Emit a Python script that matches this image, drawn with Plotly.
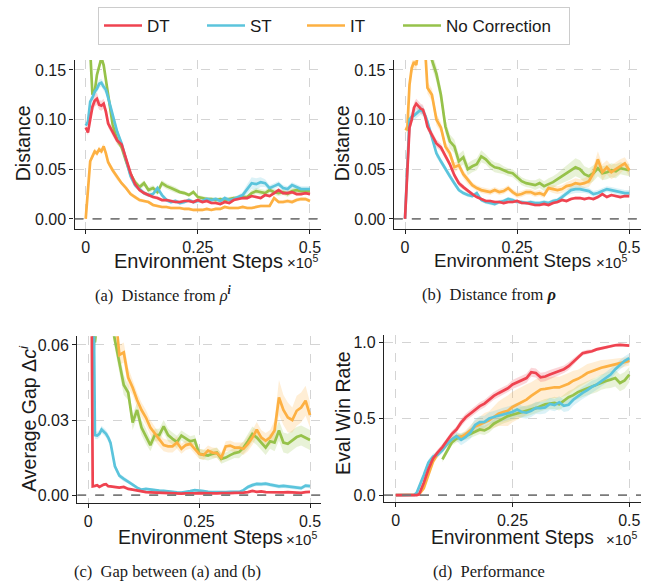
import plotly.graph_objects as go

# ---------------- data (x in units of 1e5 environment steps) ----------------
STEPS = [0.0, 0.005, 0.01, 0.015, 0.02, 0.025, 0.03, 0.035, 0.04, 0.045, 0.05,
         0.06, 0.07, 0.08, 0.09, 0.10,
         0.11, 0.12, 0.13, 0.14, 0.15,
         0.16, 0.17, 0.18, 0.19, 0.20,
         0.21, 0.22, 0.23, 0.24, 0.25,
         0.26, 0.27, 0.28, 0.29, 0.30,
         0.31, 0.32, 0.33, 0.34, 0.35,
         0.36, 0.37, 0.38, 0.39, 0.40,
         0.41, 0.42, 0.43, 0.44, 0.45,
         0.46, 0.47, 0.48, 0.49, 0.50]

SERIES = ["DT", "ST", "IT", "No Correction"]
COLORS = ["#EF4350", "#5BC4DC", "#FDB042", "#96C24A"]
BAND_RGB = ["239,67,80", "91,196,220", "253,176,66", "150,194,74"]

X_TICKS = [0, 0.25, 0.5]
X_TICKTEXT = ["0", "0.25", "0.5"]
AB_YTICKS = [0, 0.05, 0.10, 0.15]
AB_YTICKTEXT = ["0.00", "0.05", "0.10", "0.15"]
C_YTICKS = [0, 0.03, 0.06]
C_YTICKTEXT = ["0.00", "0.03", "0.06"]
D_YTICKS = [0, 0.5, 1.0]
D_YTICKTEXT = ["0.0", "0.5", "1.0"]

# ---- (a) Distance from rho^i ----
A_DT = [0.092, 0.087, 0.100, 0.113, 0.119, 0.121, 0.115, 0.114, 0.116, 0.108, 0.096,
        0.088, 0.079, 0.075, 0.060, 0.046,
        0.035, 0.029, 0.026, 0.024, 0.022,
        0.021, 0.019, 0.019, 0.018, 0.017,
        0.017, 0.018, 0.018, 0.017, 0.019,
        0.017, 0.018, 0.016, 0.016, 0.015,
        0.017, 0.016, 0.019, 0.020, 0.021,
        0.021, 0.023, 0.022, 0.021, 0.024,
        0.023, 0.026, 0.029, 0.026, 0.026,
        0.027, 0.025, 0.025, 0.026, 0.025]
A_ST = [0.094, 0.098, 0.118, 0.122, 0.128, 0.131, 0.136, 0.137, 0.133, 0.130, 0.122,
        0.105, 0.088, 0.076, 0.060, 0.043,
        0.034, 0.030, 0.026, 0.024, 0.025,
        0.031, 0.024, 0.019, 0.017, 0.018,
        0.016, 0.017, 0.019, 0.017, 0.018,
        0.018, 0.020, 0.019, 0.020, 0.018,
        0.021, 0.019, 0.020, 0.022, 0.024,
        0.030, 0.036, 0.035, 0.037, 0.036,
        0.031, 0.033, 0.035, 0.031, 0.030,
        0.034, 0.032, 0.030, 0.030, 0.030]
A_IT = [0.000, 0.030, 0.058, 0.063, 0.068, 0.066, 0.070, 0.068, 0.073, 0.066, 0.057,
        0.049, 0.042, 0.036, 0.031, 0.025,
        0.022, 0.019, 0.018, 0.017, 0.014,
        0.013, 0.012, 0.012, 0.011, 0.011,
        0.011, 0.010, 0.010, 0.009, 0.009,
        0.009, 0.010, 0.009, 0.010, 0.010,
        0.012, 0.011, 0.011, 0.011, 0.012,
        0.011, 0.011, 0.012, 0.013, 0.013,
        0.013, 0.021, 0.017, 0.017, 0.018,
        0.017, 0.019, 0.020, 0.020, 0.018]
A_NC = [0.350, 0.250, 0.170, 0.125, 0.128, 0.145, 0.155, 0.162, 0.155, 0.140, 0.122,
        0.095, 0.080, 0.072, 0.058, 0.045,
        0.037, 0.032, 0.036, 0.029, 0.031,
        0.027, 0.036, 0.033, 0.031, 0.029,
        0.027, 0.026, 0.024, 0.027, 0.022,
        0.021, 0.020, 0.020, 0.019, 0.020,
        0.019, 0.020, 0.021, 0.021, 0.022,
        0.022, 0.026, 0.028, 0.027, 0.026,
        0.029, 0.027, 0.026, 0.027, 0.025,
        0.028, 0.029, 0.028, 0.028, 0.028]
A_DT_SD = [0.002, 0.003, 0.004, 0.005, 0.006, 0.006, 0.005, 0.005, 0.005, 0.005, 0.004,
           0.004, 0.004, 0.004, 0.003, 0.003,
           0.003, 0.002, 0.002, 0.002, 0.002,
           0.002, 0.0015, 0.0015, 0.0015, 0.0015,
           0.0015, 0.0015, 0.0015, 0.0015, 0.0015,
           0.0015, 0.0015, 0.0015, 0.0015, 0.0015,
           0.0015, 0.0015, 0.0015, 0.0015, 0.0015,
           0.0015, 0.0015, 0.0015, 0.0015, 0.0015,
           0.0015, 0.0015, 0.002, 0.002, 0.002,
           0.002, 0.0015, 0.0015, 0.0015, 0.0015]
A_ST_SD = [0.002, 0.003, 0.004, 0.004, 0.004, 0.004, 0.004, 0.004, 0.004, 0.004, 0.004,
           0.004, 0.004, 0.003, 0.003, 0.003,
           0.003, 0.002, 0.002, 0.002, 0.002,
           0.003, 0.002, 0.002, 0.002, 0.002,
           0.002, 0.002, 0.002, 0.002, 0.002,
           0.002, 0.002, 0.002, 0.002, 0.002,
           0.002, 0.002, 0.002, 0.002, 0.003,
           0.005, 0.006, 0.006, 0.005, 0.004,
           0.003, 0.003, 0.003, 0.003, 0.003,
           0.003, 0.003, 0.003, 0.003, 0.003]
A_IT_SD = [0.001, 0.002, 0.003, 0.003, 0.003, 0.003, 0.003, 0.003, 0.003, 0.003, 0.003,
           0.003, 0.003, 0.002, 0.002, 0.002,
           0.002, 0.002, 0.0015, 0.0015, 0.0015,
           0.0015, 0.0015, 0.0015, 0.0015, 0.0015,
           0.0015, 0.0015, 0.0015, 0.0015, 0.0015,
           0.0015, 0.0015, 0.0015, 0.0015, 0.0015,
           0.0015, 0.0015, 0.0015, 0.0015, 0.0015,
           0.0015, 0.0015, 0.0015, 0.0015, 0.0015,
           0.0015, 0.002, 0.002, 0.002, 0.002,
           0.002, 0.002, 0.002, 0.002, 0.002]
A_NC_SD = [0.004, 0.004, 0.004, 0.004, 0.004, 0.004, 0.004, 0.004, 0.004, 0.004, 0.004,
           0.004, 0.004, 0.003, 0.003, 0.003,
           0.003, 0.003, 0.003, 0.003, 0.003,
           0.003, 0.003, 0.003, 0.003, 0.003,
           0.002, 0.002, 0.002, 0.002, 0.002,
           0.002, 0.002, 0.002, 0.002, 0.002,
           0.002, 0.002, 0.002, 0.002, 0.002,
           0.002, 0.003, 0.003, 0.003, 0.003,
           0.003, 0.003, 0.003, 0.003, 0.003,
           0.003, 0.003, 0.003, 0.003, 0.003]

# ---- (b) Distance from rho ----
B_DT = [0.000, 0.046, 0.092, 0.100, 0.112, 0.116, 0.113, 0.111, 0.110, 0.103, 0.093,
        0.085, 0.076, 0.072, 0.063, 0.055,
        0.044, 0.036, 0.032, 0.028, 0.025,
        0.022, 0.020, 0.018, 0.018, 0.017,
        0.017, 0.016, 0.017, 0.017, 0.018,
        0.016, 0.016, 0.015, 0.014, 0.014,
        0.015, 0.014, 0.016, 0.017, 0.019,
        0.018, 0.020, 0.021, 0.021, 0.020,
        0.021, 0.020, 0.022, 0.025, 0.022,
        0.024, 0.023, 0.022, 0.023, 0.023]
B_ST = [0.000, 0.050, 0.100, 0.103, 0.104, 0.106, 0.108, 0.110, 0.108, 0.104, 0.098,
        0.083, 0.066, 0.058, 0.050, 0.043,
        0.036, 0.029, 0.026, 0.024, 0.023,
        0.026, 0.019, 0.017, 0.016, 0.015,
        0.017, 0.018, 0.020, 0.019, 0.017,
        0.017, 0.016, 0.017, 0.016, 0.016,
        0.017, 0.016, 0.018, 0.019, 0.022,
        0.026, 0.029, 0.030, 0.030, 0.029,
        0.028, 0.025, 0.026, 0.028, 0.030,
        0.029, 0.028, 0.027, 0.026, 0.026]
B_IT = [0.091, 0.090, 0.135, 0.152, 0.158, 0.155, 0.170, 0.190, 0.190, 0.170, 0.132,
        0.125, 0.100, 0.092, 0.073, 0.066,
        0.052, 0.054, 0.045, 0.039, 0.034,
        0.031, 0.029, 0.028, 0.027, 0.029,
        0.027, 0.028, 0.031, 0.027, 0.024,
        0.025, 0.027, 0.027, 0.025, 0.026,
        0.024, 0.031, 0.030, 0.029, 0.030,
        0.033, 0.034, 0.036, 0.035, 0.036,
        0.038, 0.046, 0.060, 0.047, 0.052,
        0.047, 0.050, 0.053, 0.056, 0.049]
B_NC = [0.250, 0.280, 0.300, 0.300, 0.290, 0.280, 0.260, 0.240, 0.220, 0.200, 0.185,
        0.160, 0.146, 0.125, 0.093, 0.078,
        0.073, 0.058, 0.062, 0.050, 0.053,
        0.055, 0.063, 0.060, 0.055, 0.052,
        0.051, 0.049, 0.047, 0.046, 0.042,
        0.038, 0.036, 0.035, 0.034, 0.036,
        0.033, 0.035, 0.037, 0.040, 0.043,
        0.046, 0.049, 0.052, 0.050, 0.045,
        0.043, 0.046, 0.051, 0.046, 0.047,
        0.049, 0.048, 0.051, 0.050, 0.049]
B_DT_SD = [0.001, 0.003, 0.004, 0.005, 0.005, 0.005, 0.005, 0.005, 0.005, 0.005, 0.004,
           0.004, 0.004, 0.004, 0.003, 0.003,
           0.003, 0.003, 0.002, 0.002, 0.002,
           0.0015, 0.0015, 0.0015, 0.0015, 0.0015,
           0.0015, 0.0015, 0.0015, 0.0015, 0.0015,
           0.0015, 0.0015, 0.0015, 0.0015, 0.0015,
           0.0015, 0.0015, 0.0015, 0.0015, 0.0015,
           0.0015, 0.0015, 0.0015, 0.0015, 0.0015,
           0.0015, 0.0015, 0.0015, 0.0015, 0.0015,
           0.0015, 0.0015, 0.0015, 0.0015, 0.0015]
B_ST_SD = [0.001, 0.003, 0.004, 0.005, 0.005, 0.005, 0.005, 0.005, 0.005, 0.005, 0.004,
           0.004, 0.004, 0.003, 0.003, 0.003,
           0.003, 0.002, 0.002, 0.002, 0.002,
           0.002, 0.002, 0.002, 0.002, 0.002,
           0.002, 0.002, 0.002, 0.002, 0.002,
           0.002, 0.002, 0.002, 0.002, 0.002,
           0.002, 0.002, 0.002, 0.002, 0.003,
           0.003, 0.004, 0.004, 0.004, 0.003,
           0.003, 0.003, 0.003, 0.003, 0.003,
           0.003, 0.003, 0.003, 0.003, 0.003]
B_IT_SD = [0.002, 0.004, 0.006, 0.006, 0.006, 0.006, 0.006, 0.006, 0.006, 0.006, 0.006,
           0.006, 0.006, 0.005, 0.005, 0.005,
           0.005, 0.004, 0.004, 0.004, 0.003,
           0.003, 0.003, 0.003, 0.003, 0.003,
           0.003, 0.003, 0.003, 0.003, 0.003,
           0.003, 0.003, 0.003, 0.003, 0.003,
           0.003, 0.003, 0.004, 0.004, 0.004,
           0.004, 0.005, 0.005, 0.005, 0.005,
           0.006, 0.007, 0.008, 0.008, 0.007,
           0.007, 0.007, 0.007, 0.006, 0.006]
B_NC_SD = [0.010, 0.010, 0.010, 0.010, 0.010, 0.010, 0.010, 0.010, 0.010, 0.010, 0.010,
           0.008, 0.008, 0.008, 0.007, 0.007,
           0.007, 0.007, 0.007, 0.006, 0.006,
           0.006, 0.006, 0.005, 0.005, 0.005,
           0.005, 0.004, 0.004, 0.004, 0.004,
           0.004, 0.004, 0.004, 0.005, 0.005,
           0.005, 0.006, 0.006, 0.006, 0.007,
           0.008, 0.009, 0.009, 0.009, 0.008,
           0.008, 0.008, 0.008, 0.007, 0.007,
           0.007, 0.007, 0.006, 0.006, 0.006]

# ---- (c) Gap between (a) and (b) ----
C_DT = [0.300, 0.150, 0.0035, 0.0037, 0.0040, 0.0033, 0.0038, 0.0042, 0.0044, 0.0036, 0.0035,
        0.0031, 0.0030, 0.0033, 0.0025, 0.0022,
        0.0018, 0.0016, 0.0012, 0.0011, 0.0010,
        0.0009, 0.0008, 0.0008, 0.0007, 0.0007,
        0.0006, 0.0007, 0.0006, 0.0007, 0.0008,
        0.0007, 0.0009, 0.0008, 0.0007, 0.0008,
        0.0007, 0.0008, 0.0009, 0.0008, 0.0010,
        0.0012, 0.0017, 0.0013, 0.0015, 0.0012,
        0.0011, 0.0013, 0.0010, 0.0011, 0.0012,
        0.0010, 0.0011, 0.0009, 0.0012, 0.0013]
C_ST = [0.300, 0.250, 0.120, 0.0240, 0.0238, 0.0245, 0.0262, 0.0255, 0.0245, 0.0230, 0.0210,
        0.0115, 0.0078, 0.0065, 0.0055, 0.0042,
        0.0030, 0.0022, 0.0025, 0.0022, 0.0020,
        0.0018, 0.0017, 0.0014, 0.0013, 0.0011,
        0.0010, 0.0012, 0.0016, 0.0020, 0.0019,
        0.0016, 0.0013, 0.0012, 0.0013, 0.0011,
        0.0012, 0.0013, 0.0012, 0.0013, 0.0020,
        0.0033, 0.0040, 0.0045, 0.0044, 0.0046,
        0.0042, 0.0038, 0.0035, 0.0037, 0.0035,
        0.0033, 0.0030, 0.0028, 0.0038, 0.0036]
C_IT = [0.250, 0.250, 0.240, 0.220, 0.200, 0.180, 0.160, 0.140, 0.120, 0.100, 0.090,
        0.075, 0.056, 0.057, 0.047, 0.043,
        0.038, 0.034, 0.031, 0.027, 0.0245,
        0.022, 0.020, 0.0195, 0.0195, 0.021,
        0.0185, 0.020, 0.0205, 0.0185, 0.0165,
        0.016, 0.0178, 0.017, 0.0168, 0.015,
        0.0195, 0.0198, 0.019, 0.019, 0.0185,
        0.0205, 0.023, 0.0262, 0.023, 0.0218,
        0.023, 0.0258, 0.039, 0.034, 0.031,
        0.030, 0.0337, 0.035, 0.0377, 0.032]
C_NC = [0.250, 0.120, 0.064, 0.061, 0.070, 0.090, 0.100, 0.100, 0.090, 0.080, 0.072,
        0.062, 0.053, 0.044, 0.041, 0.029,
        0.034, 0.027, 0.0235, 0.020, 0.024,
        0.024, 0.0275, 0.024, 0.0225, 0.0212,
        0.0238, 0.0225, 0.0215, 0.022, 0.0165,
        0.0162, 0.0158, 0.0165, 0.017, 0.0145,
        0.015, 0.016, 0.0168, 0.0172, 0.019,
        0.0215, 0.0244, 0.023, 0.021, 0.019,
        0.0215, 0.021, 0.0258, 0.021, 0.0205,
        0.022, 0.0232, 0.0238, 0.023, 0.022]
C_DT_SD = [0.0, 0.0, 0.0004, 0.0004, 0.0004, 0.0004, 0.0004, 0.0004, 0.0004, 0.0004, 0.0004,
           0.0003, 0.0003, 0.0003, 0.0003, 0.0003,
           0.0003, 0.0003, 0.0003, 0.0003, 0.0003,
           0.0003, 0.0003, 0.0003, 0.0003, 0.0003,
           0.0003, 0.0003, 0.0003, 0.0003, 0.0003,
           0.0003, 0.0003, 0.0003, 0.0003, 0.0003,
           0.0003, 0.0003, 0.0003, 0.0003, 0.0003,
           0.0003, 0.0003, 0.0003, 0.0003, 0.0003,
           0.0003, 0.0003, 0.0003, 0.0003, 0.0003,
           0.0003, 0.0003, 0.0003, 0.0003, 0.0003]
C_ST_SD = [0.0, 0.0, 0.0, 0.0015, 0.0015, 0.0015, 0.0015, 0.0015, 0.0015, 0.0015, 0.0015,
           0.0012, 0.0010, 0.0010, 0.0008, 0.0008,
           0.0005, 0.0005, 0.0005, 0.0005, 0.0005,
           0.0005, 0.0005, 0.0005, 0.0005, 0.0005,
           0.0005, 0.0005, 0.0005, 0.0005, 0.0005,
           0.0005, 0.0005, 0.0005, 0.0005, 0.0005,
           0.0005, 0.0005, 0.0005, 0.0005, 0.0005,
           0.0008, 0.0008, 0.0008, 0.0008, 0.0008,
           0.0008, 0.0008, 0.0008, 0.0008, 0.0008,
           0.0008, 0.0008, 0.0008, 0.0008, 0.0008]
C_IT_SD = [0.004, 0.004, 0.004, 0.004, 0.004, 0.004, 0.004, 0.004, 0.004, 0.004, 0.004,
           0.004, 0.004, 0.004, 0.004, 0.003,
           0.003, 0.003, 0.003, 0.003, 0.0025,
           0.0025, 0.0025, 0.0025, 0.0025, 0.0025,
           0.002, 0.002, 0.002, 0.002, 0.002,
           0.002, 0.002, 0.002, 0.002, 0.002,
           0.002, 0.002, 0.002, 0.002, 0.0025,
           0.003, 0.003, 0.003, 0.003, 0.003,
           0.003, 0.004, 0.007, 0.006, 0.006,
           0.005, 0.006, 0.006, 0.006, 0.005]
C_NC_SD = [0.004, 0.004, 0.004, 0.004, 0.004, 0.004, 0.004, 0.004, 0.004, 0.004, 0.004,
           0.004, 0.004, 0.004, 0.003, 0.003,
           0.003, 0.003, 0.003, 0.0025, 0.0025,
           0.0025, 0.0025, 0.0025, 0.0025, 0.0025,
           0.002, 0.002, 0.002, 0.002, 0.002,
           0.002, 0.002, 0.002, 0.002, 0.002,
           0.002, 0.002, 0.002, 0.0025, 0.0025,
           0.003, 0.003, 0.003, 0.003, 0.003,
           0.003, 0.0035, 0.004, 0.004, 0.004,
           0.004, 0.004, 0.004, 0.004, 0.004]

# ---- (d) Performance (eval win rate) ----
D_DT = [0.0, 0.0, 0.0, 0.0, 0.0, 0.0, 0.0, 0.0, 0.0, 0.0, 0.005,
        0.080, 0.170, 0.240, 0.280, 0.315,
        0.358, 0.400, 0.430, 0.475, 0.510,
        0.535, 0.560, 0.583, 0.600, 0.625,
        0.650, 0.668, 0.685, 0.700, 0.725,
        0.738, 0.752, 0.767, 0.805, 0.800,
        0.772, 0.777, 0.790, 0.800, 0.812,
        0.825, 0.845, 0.875, 0.905, 0.930,
        0.937, 0.943, 0.955, 0.962, 0.968,
        0.978, 0.982, 0.985, 0.982, 0.980]
D_ST = [0.0, 0.0, 0.0, 0.0, 0.0, 0.0, 0.0, 0.0, 0.002, 0.015, 0.050,
        0.130, 0.213, 0.253, 0.266, 0.295,
        0.335, 0.365, 0.387, 0.362, 0.382,
        0.410, 0.460, 0.478, 0.480, 0.503,
        0.512, 0.520, 0.528, 0.535, 0.545,
        0.561, 0.545, 0.540, 0.552, 0.572,
        0.570, 0.575, 0.598, 0.590, 0.608,
        0.585, 0.592, 0.625, 0.650, 0.670,
        0.688, 0.710, 0.724, 0.748, 0.768,
        0.790, 0.825, 0.855, 0.880, 0.898]
D_IT = [0.0, 0.0, 0.0, 0.0, 0.0, 0.0, 0.0, 0.0, 0.0, 0.0, 0.004,
        0.045, 0.140, 0.220, 0.270, 0.300,
        0.335, 0.365, 0.387, 0.380, 0.400,
        0.425, 0.450, 0.463, 0.478, 0.490,
        0.512, 0.533, 0.545, 0.553, 0.578,
        0.595, 0.610, 0.626, 0.650, 0.670,
        0.692, 0.696, 0.703, 0.707, 0.706,
        0.716, 0.730, 0.750, 0.762, 0.780,
        0.800, 0.812, 0.825, 0.835, 0.842,
        0.850, 0.857, 0.865, 0.872, 0.880]
D_NC = [None, None, None, None, None, None, None, None, None, None, None,
        None, None, None, None, 0.235,
        0.290, 0.345, 0.370, 0.382, 0.388,
        0.400, 0.415, 0.430, 0.424, 0.440,
        0.468, 0.485, 0.500, 0.518, 0.527,
        0.535, 0.545, 0.550, 0.560, 0.570,
        0.583, 0.595, 0.600, 0.604, 0.595,
        0.620, 0.642, 0.655, 0.675, 0.688,
        0.700, 0.712, 0.724, 0.740, 0.748,
        0.757, 0.767, 0.735, 0.752, 0.789]
D_DT_SD = [0.0, 0.0, 0.0, 0.0, 0.0, 0.0, 0.0, 0.0, 0.0, 0.0, 0.005,
           0.010, 0.015, 0.020, 0.020, 0.020,
           0.020, 0.020, 0.020, 0.025, 0.025,
           0.025, 0.025, 0.025, 0.025, 0.025,
           0.025, 0.025, 0.025, 0.025, 0.030,
           0.030, 0.030, 0.030, 0.030, 0.030,
           0.030, 0.030, 0.030, 0.030, 0.025,
           0.025, 0.025, 0.020, 0.020, 0.015,
           0.015, 0.012, 0.010, 0.010, 0.010,
           0.010, 0.010, 0.008, 0.008, 0.008]
D_ST_SD = [0.0, 0.0, 0.0, 0.0, 0.0, 0.0, 0.0, 0.0, 0.002, 0.005, 0.010,
           0.015, 0.020, 0.020, 0.020, 0.020,
           0.020, 0.025, 0.030, 0.035, 0.035,
           0.040, 0.040, 0.040, 0.040, 0.040,
           0.040, 0.045, 0.045, 0.045, 0.045,
           0.045, 0.040, 0.040, 0.040, 0.040,
           0.040, 0.040, 0.040, 0.040, 0.040,
           0.040, 0.040, 0.040, 0.040, 0.040,
           0.040, 0.040, 0.035, 0.035, 0.035,
           0.035, 0.030, 0.030, 0.030, 0.030]
D_IT_SD = [0.0, 0.0, 0.0, 0.0, 0.0, 0.0, 0.0, 0.0, 0.0, 0.0, 0.005,
           0.010, 0.015, 0.020, 0.020, 0.020,
           0.020, 0.020, 0.020, 0.020, 0.025,
           0.030, 0.040, 0.050, 0.060, 0.060,
           0.070, 0.080, 0.090, 0.100, 0.100,
           0.100, 0.100, 0.100, 0.090, 0.090,
           0.080, 0.080, 0.070, 0.070, 0.070,
           0.070, 0.070, 0.065, 0.060, 0.060,
           0.060, 0.055, 0.050, 0.050, 0.045,
           0.040, 0.040, 0.035, 0.030, 0.030]
D_NC_SD = [0.0, 0.0, 0.0, 0.0, 0.0, 0.0, 0.0, 0.0, 0.0, 0.0, 0.0,
           0.0, 0.0, 0.0, 0.0, 0.020,
           0.020, 0.020, 0.025, 0.025, 0.025,
           0.025, 0.030, 0.030, 0.030, 0.030,
           0.030, 0.030, 0.030, 0.035, 0.035,
           0.035, 0.035, 0.035, 0.035, 0.035,
           0.035, 0.035, 0.035, 0.040, 0.040,
           0.040, 0.040, 0.040, 0.045, 0.045,
           0.045, 0.045, 0.050, 0.050, 0.050,
           0.055, 0.055, 0.055, 0.055, 0.050]

PANELS = [
    dict(xa="x", ya="y", vals=[A_DT, A_ST, A_IT, A_NC], sds=[A_DT_SD, A_ST_SD, A_IT_SD, A_NC_SD]),
    dict(xa="x2", ya="y2", vals=[B_DT, B_ST, B_IT, B_NC], sds=[B_DT_SD, B_ST_SD, B_IT_SD, B_NC_SD]),
    dict(xa="x3", ya="y3", vals=[C_DT, C_ST, C_IT, C_NC], sds=[C_DT_SD, C_ST_SD, C_IT_SD, C_NC_SD]),
    dict(xa="x4", ya="y4", vals=[D_DT, D_ST, D_IT, D_NC], sds=[D_DT_SD, D_ST_SD, D_IT_SD, D_NC_SD]),
]

for p in PANELS:
    for arr in p["vals"] + p["sds"]:
        assert len(arr) == len(STEPS), len(arr)

W, H = 662, 586


def px(x):
    return x / W


def py(y):
    return 1 - y / H


SANS = "Liberation Sans, Arial, Helvetica, sans-serif"
SERIF = "Liberation Serif, Times New Roman, serif"
INK = "#1a1a1a"
LEGEND_WIDTHS = [50, 47, 43, 118]

fig = go.Figure()
DRAW_ORDER = [3, 2, 1, 0]

for pi, p in enumerate(PANELS):
    # bands first
    for si in DRAW_ORDER:
        vals, sds = p["vals"][si], p["sds"][si]
        xs = [x for x, v in zip(STEPS, vals) if v is not None]
        up = [v + s for v, s in zip(vals, sds) if v is not None]
        lo = [v - s for v, s in zip(vals, sds) if v is not None]
        fig.add_trace(go.Scatter(
            x=xs + xs[::-1], y=up + lo[::-1], fill="toself",
            fillcolor="rgba(%s,0.22)" % BAND_RGB[si], line=dict(width=0),
            mode="lines", hoverinfo="skip", showlegend=False,
            xaxis=p["xa"], yaxis=p["ya"]))
    for si in DRAW_ORDER:
        fig.add_trace(go.Scatter(
            x=STEPS, y=p["vals"][si], mode="lines", name=SERIES[si],
            line=dict(color=COLORS[si], width=2.7),
            showlegend=(pi == 0), legendrank=si + 1,
            legendwidth=LEGEND_WIDTHS[si],
            connectgaps=False, xaxis=p["xa"], yaxis=p["ya"]))

axis_common = dict(
    showline=True, linecolor="#222222", linewidth=1.3,
    ticks="outside", ticklen=4, tickwidth=1.3, tickcolor="#222222",
    showgrid=True, gridcolor="#d4d4d4", griddash="dash", gridwidth=1,
    zeroline=False, tickfont=dict(family=SANS, size=16, color=INK),
)

XDOM = {
    "a": [74.5 / W, 321.2 / W], "b": [393.8 / W, 640.5 / W],
    "c": [77.2 / W, 321.1 / W], "d": [384.0 / W, 641.0 / W],
}
YDOM = {
    "a": [py(229), py(59.3)], "b": [py(229), py(59.3)],
    "c": [py(504.25), py(336.9)], "d": [py(503.6), py(335.6)],
}

layout_axes = {}
specs = [("a", "", AB_YTICKS, AB_YTICKTEXT, [-0.01, 0.16]),
         ("b", "2", AB_YTICKS, AB_YTICKTEXT, [-0.01, 0.16]),
         ("c", "3", C_YTICKS, C_YTICKTEXT, [-0.003, 0.0635]),
         ("d", "4", D_YTICKS, D_YTICKTEXT, [-0.045, 1.05])]
shapes = []
for key, sfx, yt, ytt, yr in specs:
    layout_axes["xaxis" + sfx] = dict(
        axis_common, domain=XDOM[key], anchor="y" + sfx, range=[-0.025, 0.525],
        tickvals=X_TICKS, ticktext=X_TICKTEXT)
    layout_axes["yaxis" + sfx] = dict(
        axis_common, domain=YDOM[key], anchor="x" + sfx, range=yr,
        tickvals=yt, ticktext=ytt)
    # dashed zero reference line, spanning the panel width
    shapes.append(dict(type="line", xref="x" + sfx, yref="y" + sfx,
                       x0=-0.025, x1=0.525, y0=0, y1=0, layer="above",
                       line=dict(color="#7a7a7a", width=1.6, dash="dash")))

fig.update_layout(**layout_axes)

annotations = []


def note(text, x, y, size, family=SANS, xanchor="center", yanchor="middle", angle=0):
    annotations.append(dict(
        text=text, x=px(x), y=py(y), xref="paper", yref="paper",
        xanchor=xanchor, yanchor=yanchor, showarrow=False, textangle=angle,
        font=dict(family=family, size=size, color=INK)))


# x-axis titles and offset text
for cx, cy, ox, fs in [(198.5, 261, 285, 20), (512, 261, 594, 18.6),
                       (200, 539, 284, 19.5), (512.5, 539, 604, 19.3)]:
    note("Environment Steps", cx, cy, fs)
    note("×10<sup>5</sup>", ox, cy + 1, 15, xanchor="left")

# y-axis titles
note("Distance", 23, 143, 19.5, angle=-90)
note("Distance", 342, 143, 19.5, angle=-90)
note("Average Gap Δ<i>c</i><sup><i>i</i></sup>", 28, 420, 19.5, angle=-90)
note("Eval Win Rate", 343, 414, 19.5, angle=-90)

# captions
note("(a)  Distance from <i>ρ</i><sup><b><i>i</i></b></sup>", 163, 295, 16.5, family=SERIF)
note("(b)  Distance from <b><i>ρ</i></b>", 489, 295, 16.5, family=SERIF)
note("(c)  Gap between (a) and (b)", 167, 573, 16.5, family=SERIF)
note("(d)  Performance", 489, 573, 16.5, family=SERIF)

fig.update_layout(
    width=W, height=H, margin=dict(l=0, r=0, t=0, b=0),
    paper_bgcolor="white", plot_bgcolor="white",
    annotations=annotations, shapes=shapes,
    showlegend=True,
    legend=dict(orientation="h", x=px(98), xanchor="left", y=py(6), yanchor="top",
                bgcolor="white", bordercolor="#cccccc", borderwidth=1,
                font=dict(family=SANS, size=17, color=INK),
                itemwidth=38, traceorder="normal"),
)

fig.write_html("out.html", config={"displayModeBar": False},
               post_script="document.body.style.margin='0px';")
